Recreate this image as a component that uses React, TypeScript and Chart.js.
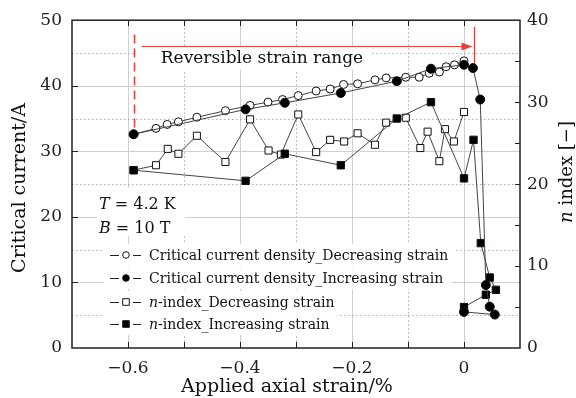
import React, { useEffect, useRef } from 'react';
import { Chart, registerables } from 'chart.js';

Chart.register(...registerables);

// ---- Data ----
const strainIcDec = [-0.59, -0.55, -0.53, -0.51, -0.477, -0.426, -0.382, -0.35, -0.324, -0.296, -0.264, -0.239, -0.215, -0.19, -0.159, -0.139, -0.104, -0.08, -0.062, -0.044, -0.032, -0.017, 0.0];
const icDec = [32.6, 33.5, 34.1, 34.5, 35.2, 36.2, 37.0, 37.5, 37.9, 38.5, 39.2, 39.5, 40.2, 40.3, 40.9, 41.2, 41.3, 41.3, 41.9, 42.1, 42.9, 43.2, 43.8];

const strainIcInc = [-0.59, -0.39, -0.32, -0.22, -0.12, -0.059, 0.0, 0.016, 0.029, 0.039, 0.046, 0.055, 0.0];
const icInc = [32.6, 36.4, 37.4, 38.9, 40.7, 42.6, 43.2, 42.7, 37.9, 9.6, 6.3, 5.1, 5.5];

const strainNDec = [-0.59, -0.55, -0.529, -0.51, -0.477, -0.426, -0.382, -0.349, -0.327, -0.296, -0.264, -0.239, -0.214, -0.19, -0.159, -0.139, -0.104, -0.078, -0.065, -0.044, -0.034, -0.018, 0.0];
const nDec = [21.7, 22.3, 24.3, 23.7, 25.9, 22.7, 27.9, 24.1, 23.6, 28.5, 23.9, 25.4, 25.2, 26.2, 24.8, 27.5, 28.1, 24.4, 26.4, 22.8, 26.7, 25.2, 28.8];

const strainNInc = [-0.59, -0.39, -0.32, -0.22, -0.12, -0.059, 0.0, 0.017, 0.03, 0.046, 0.057, 0.039, 0.0];
const nInc = [21.7, 20.4, 23.7, 22.3, 28.0, 30.0, 20.7, 25.4, 12.8, 8.6, 7.1, 6.5, 5.0];

const xTickValues = [-0.6, -0.4, -0.2, 0];
const xGridValues = [-0.6, -0.5, -0.4, -0.3, -0.2, -0.1, 0];
const yGridValues = [5, 10, 15, 20, 25, 30, 35, 40, 45];
const y2MinorTicks = [5, 10, 15, 20, 25, 30, 35];

const legendLabels = [
  { n: false, text: 'Critical current density_Decreasing strain', shape: 'circle', filled: false },
  { n: false, text: 'Critical current density_Increasing strain', shape: 'circle', filled: true },
  { n: true, text: '-index_Decreasing strain', shape: 'rect', filled: false },
  { n: true, text: '-index_Increasing strain', shape: 'rect', filled: true },
];

// annotation anchors in data units
const reversibleStart = -0.59;
const reversibleEnd = 0.017;
const arrowLevel = 46.0;

const FONT = '"DejaVu Serif", serif';

const pts = (xs: number[], ys: number[]) => xs.map((x, i) => ({ x, y: ys[i] }));

function drawMarker(ctx: CanvasRenderingContext2D, shape: string, filled: boolean, cx: number, cy: number, r: number) {
  ctx.beginPath();
  if (shape === 'circle') ctx.arc(cx, cy, r, 0, Math.PI * 2);
  else ctx.rect(cx - r, cy - r, 2 * r, 2 * r);
  ctx.fillStyle = filled ? '#000' : '#fff';
  ctx.fill();
  ctx.lineWidth = 1;
  ctx.strokeStyle = '#111';
  ctx.setLineDash([]);
  ctx.stroke();
}

const decor = {
  id: 'decor',
  beforeDatasetsDraw(chart: any) {
    const { ctx, chartArea: ca, scales } = chart;
    const x = scales.x, y = scales.y;
    ctx.save();
    // grid
    xGridValues.forEach((v) => {
      const px = Math.round(x.getPixelForValue(v)) + 0.5;
      const major = Math.abs(Math.round(v * 10)) % 2 === 0;
      ctx.beginPath();
      ctx.strokeStyle = major ? '#cfcfcf' : '#b9aaaa';
      ctx.lineWidth = 1;
      ctx.setLineDash(major ? [] : [1.5, 2.5]);
      ctx.moveTo(px, ca.top);
      ctx.lineTo(px, ca.bottom);
      ctx.stroke();
    });
    yGridValues.forEach((v) => {
      const py = Math.round(y.getPixelForValue(v)) + 0.5;
      const major = v % 10 === 0;
      ctx.beginPath();
      ctx.strokeStyle = major ? '#cfcfcf' : '#b9aaaa';
      ctx.lineWidth = 1;
      ctx.setLineDash(major ? [] : [1.5, 2.5]);
      ctx.moveTo(ca.left, py);
      ctx.lineTo(ca.right, py);
      ctx.stroke();
    });
    ctx.setLineDash([]);

    // white boxes behind text
    ctx.fillStyle = '#fff';
    ctx.fillRect(135, 47, 237, 23);
    ctx.fillRect(97, 188, 88, 48);
    const rowY = [255, 278, 302, 324];
    legendLabels.forEach((l, i) => {
      ctx.font = `14px ${FONT}`;
      let w = ctx.measureText(l.text).width;
      if (l.n) w += 9;
      ctx.fillRect(104, rowY[i] - 11, 149 - 104 + w + 8, 22);
    });

    // Reversible strain range text
    ctx.fillStyle = '#111';
    ctx.font = `17px ${FONT}`;
    ctx.textAlign = 'center';
    ctx.textBaseline = 'alphabetic';
    ctx.fillText('Reversible strain range', 262, 63);

    // T and B
    ctx.textAlign = 'left';
    const drawMath = (parts: { t: string; it: boolean }[], sx: number, sy: number, size: number) => {
      let cx = sx;
      parts.forEach((p) => {
        ctx.font = `${p.it ? 'italic ' : ''}${size}px ${FONT}`;
        ctx.fillText(p.t, cx, sy);
        cx += ctx.measureText(p.t).width;
      });
    };
    drawMath([{ t: 'T', it: true }, { t: ' = 4.2 K', it: false }], 99, 209, 16);
    drawMath([{ t: 'B', it: true }, { t: ' = 10 T', it: false }], 99, 233, 16);

    // legend
    legendLabels.forEach((l, i) => {
      const cy = rowY[i];
      ctx.beginPath();
      ctx.strokeStyle = '#222';
      ctx.lineWidth = 1;
      ctx.moveTo(110, cy + 0.5);
      ctx.lineTo(119, cy + 0.5);
      ctx.moveTo(133, cy + 0.5);
      ctx.lineTo(141, cy + 0.5);
      ctx.stroke();
      drawMarker(ctx, l.shape, l.filled, 126, cy, 3.3);
      ctx.fillStyle = '#111';
      ctx.textBaseline = 'middle';
      if (l.n) drawMath([{ t: 'n', it: true }, { t: l.text, it: false }], 149, cy + 1, 14);
      else drawMath([{ t: l.text, it: false }], 149, cy + 1, 14);
    });

    // red annotations
    const xs = Math.round(x.getPixelForValue(reversibleStart)) + 0.5;
    const xe = Math.round(x.getPixelForValue(reversibleEnd)) + 0.5;
    const ya = Math.round(y.getPixelForValue(arrowLevel)) + 0.5;
    ctx.strokeStyle = '#e3403a';
    ctx.fillStyle = '#e3403a';
    ctx.lineWidth = 1.5;
    ctx.setLineDash([9, 5]);
    ctx.beginPath();
    ctx.moveTo(xs, y.getPixelForValue(47.8));
    ctx.lineTo(xs, y.getPixelForValue(33.6));
    ctx.stroke();
    ctx.setLineDash([]);
    ctx.lineWidth = 1.2;
    ctx.beginPath();
    ctx.moveTo(xs + 7, ya);
    ctx.lineTo(xe - 10, ya);
    ctx.stroke();
    ctx.beginPath();
    ctx.moveTo(xe - 2, ya);
    ctx.lineTo(xe - 13, ya - 4);
    ctx.lineTo(xe - 13, ya + 4);
    ctx.closePath();
    ctx.fill();
    ctx.beginPath();
    ctx.moveTo(xe, y.getPixelForValue(49));
    ctx.lineTo(xe, y.getPixelForValue(43.4));
    ctx.stroke();
    ctx.restore();
  },
  afterDraw(chart: any) {
    const { ctx, chartArea: ca, scales } = chart;
    const x = scales.x, y = scales.y, y2 = scales.y2;
    ctx.save();
    ctx.strokeStyle = '#222';
    ctx.lineWidth = 1;
    ctx.beginPath();
    xGridValues.forEach((v) => {
      const px = Math.round(x.getPixelForValue(v)) + 0.5;
      ctx.moveTo(px, ca.bottom);
      ctx.lineTo(px, ca.bottom - 6);
      ctx.moveTo(px, ca.top);
      ctx.lineTo(px, ca.top + 6);
    });
    [10, 20, 30, 40].forEach((v) => {
      const py = Math.round(y.getPixelForValue(v)) + 0.5;
      ctx.moveTo(ca.left, py);
      ctx.lineTo(ca.left + 6, py);
    });
    y2MinorTicks.forEach((v) => {
      const py = Math.round(y2.getPixelForValue(v)) + 0.5;
      ctx.moveTo(ca.right, py);
      ctx.lineTo(ca.right - 5, py);
    });
    ctx.stroke();
    ctx.lineWidth = 1.5;
    ctx.strokeRect(ca.left, ca.top, ca.right - ca.left, ca.bottom - ca.top);

    // axis titles
    ctx.fillStyle = '#111';
    ctx.textBaseline = 'middle';
    ctx.textAlign = 'center';
    ctx.font = `19px ${FONT}`;
    ctx.fillText('Applied axial strain/%', 287, 387);
    ctx.save();
    ctx.translate(20, 188);
    ctx.rotate(-Math.PI / 2);
    ctx.fillText('Critical current/A', 0, 0);
    ctx.restore();
    ctx.save();
    ctx.translate(567, 172);
    ctx.rotate(-Math.PI / 2);
    ctx.font = `italic 18px ${FONT}`;
    const nW = ctx.measureText('n').width;
    ctx.font = `18px ${FONT}`;
    const rest = ' index [\u2212]';
    const rW = ctx.measureText(rest).width;
    const total = nW + rW;
    ctx.textAlign = 'left';
    ctx.font = `italic 18px ${FONT}`;
    ctx.fillText('n', -total / 2, 0);
    ctx.font = `18px ${FONT}`;
    ctx.fillText(rest, -total / 2 + nW, 0);
    ctx.restore();
    ctx.restore();
  },
};

export default function App() {
  const ref = useRef<HTMLCanvasElement>(null);
  useEffect(() => {
    if (!ref.current) return;
    const lineBase = { showLine: true, borderColor: '#444', borderWidth: 1, pointBorderColor: '#111', pointBorderWidth: 1 };
    const tickFont = { family: FONT, size: 17 };
    const chart = new Chart(ref.current, {
      type: 'scatter',
      data: {
        datasets: [
          { ...lineBase, label: 'Critical current density_Increasing strain', data: pts(strainIcInc, icInc), yAxisID: 'y', pointStyle: 'circle', pointRadius: 4.5, pointBackgroundColor: '#000', order: 0 },
          { ...lineBase, label: 'n-index_Increasing strain', data: pts(strainNInc, nInc), yAxisID: 'y2', pointStyle: 'rect', pointRadius: 5.2, pointBackgroundColor: '#000', order: 1 },
          { ...lineBase, label: 'Critical current density_Decreasing strain', data: pts(strainIcDec, icDec), yAxisID: 'y', pointStyle: 'circle', pointRadius: 4, pointBackgroundColor: '#fff', order: 2 },
          { ...lineBase, label: 'n-index_Decreasing strain', data: pts(strainNDec, nDec), yAxisID: 'y2', pointStyle: 'rect', pointRadius: 5, pointBackgroundColor: '#fff', order: 3 },
        ],
      } as any,
      options: {
        animation: false,
        responsive: false,
        devicePixelRatio: 1,
        layout: { padding: { top: 20, left: 0, right: 0, bottom: 0 } },
        plugins: { legend: { display: false }, tooltip: { enabled: false } },
        scales: {
          x: {
            type: 'linear',
            min: -0.7,
            max: 0.1,
            afterBuildTicks: (s: any) => { s.ticks = xTickValues.map((v) => ({ value: v })); },
            afterFit: (s: any) => { s.height = 50; },
            ticks: {
              font: tickFont,
              color: '#222',
              padding: 10,
              maxRotation: 0,
              autoSkip: false,
              callback: (v: any) => (Math.abs(v) < 1e-9 ? '0' : (v < 0 ? '\u2212' : '') + Math.abs(v).toFixed(1)),
            },
            grid: { display: false, drawTicks: false },
            border: { display: false },
          },
          y: {
            position: 'left',
            min: 0,
            max: 50,
            afterFit: (s: any) => { s.width = 72; },
            ticks: { stepSize: 10, font: tickFont, color: '#222', padding: 10 },
            grid: { display: false, drawTicks: false },
            border: { display: false },
          },
          y2: {
            position: 'right',
            min: 0,
            max: 40,
            afterFit: (s: any) => { s.width = 56; },
            ticks: { stepSize: 10, font: tickFont, color: '#222', padding: 7 },
            grid: { display: false, drawTicks: false },
            border: { display: false },
          },
        },
      } as any,
      plugins: [decor],
    });
    return () => chart.destroy();
  }, []);
  return (
    <div style={{ position: 'absolute', left: 0, top: 0, width: 576, height: 398, background: '#fff' }}>
      <canvas ref={ref} width={576} height={398} style={{ display: 'block' }} />
    </div>
  );
}
